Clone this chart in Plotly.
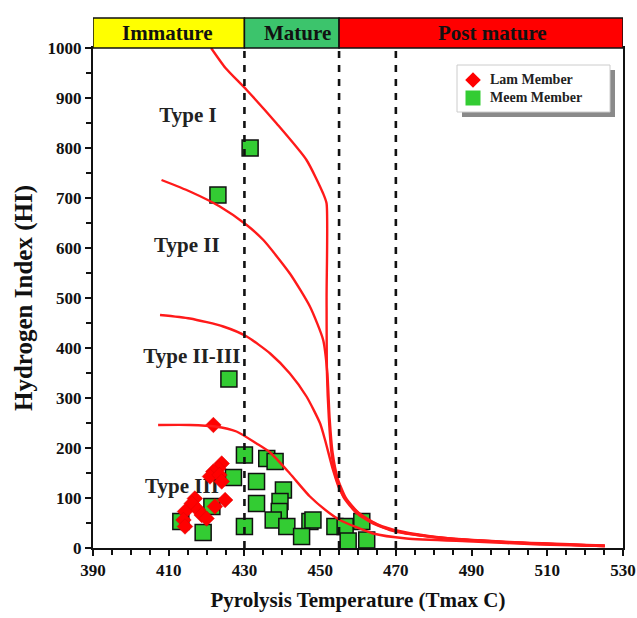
import plotly.graph_objects as go

# ---------------- data ----------------
lam_x = [421.8, 424.0, 423.1, 421.8, 420.9, 423.4, 424.0, 424.9, 416.9, 416.1,
         417.8, 418.7, 414.3, 413.9, 414.3, 420.0, 422.2]
lam_y = [246, 169, 159, 153, 143, 146, 133, 96, 99, 89,
         76, 66, 73, 56, 43, 59, 83]

meem_x = [431.5, 423.0, 425.9, 430.0, 435.9, 438.1, 427.1, 433.2, 440.3, 433.2,
          439.4, 439.2, 437.6, 441.2, 447.3, 448.1, 445.1, 430.0, 421.4, 413.2,
          419.1, 453.9, 456.6, 461.0, 457.4, 462.3]
meem_y = [800, 706, 338, 186, 179, 173, 141, 133, 116, 89,
          93, 73, 56, 43, 53, 56, 23, 43, 83, 53,
          31, 43, 43, 53, 14, 16]

type1_x = [421.2, 425.0, 430.6, 438.5, 446.4, 450.8, 451.7, 451.7, 451.8, 452.3,
           453.0, 454.2, 456.3, 459.6, 464.2, 470.5, 482.0, 500.0, 525.2]
type1_y = [1000, 960, 916, 849, 776, 709, 689, 500, 350, 260,
           190, 140, 100, 70, 48, 33, 20, 11, 4]

type2_x = [408.1, 415.6, 423.5, 430.6, 435.0, 442.0, 447.3, 450.8, 451.9, 452.5,
           453.3, 454.6, 456.8, 460.2, 465.0, 471.5, 483.0, 501.0, 525.2]
type2_y = [736, 713, 683, 646, 616, 549, 483, 416, 350, 260,
           190, 140, 100, 70, 48, 33, 20, 11, 4]

type23_x = [407.7, 415.6, 424.4, 430.6, 436.8, 442.0, 446.4, 450.0, 451.3, 453.4,
            455.2, 457.9, 461.8, 468.4, 480.0, 500.0, 525.2]
type23_y = [466, 459, 443, 423, 389, 349, 303, 249, 216, 156,
            116, 86, 60, 36, 22, 12, 5]

type3_x = [407.2, 415.6, 422.2, 427.9, 433.2, 436.8, 442.0, 447.3, 452.6, 455.2,
           464.0, 472.8, 490.4, 508.1, 525.2]
type3_y = [246, 246, 243, 233, 209, 191, 149, 103, 69, 56,
           29, 19, 13, 7, 4]

type_labels = ["Type I", "Type II", "Type II-III", "Type III"]
type_label_x = [415.1, 414.8, 416.1, 413.5]
type_label_y = [862, 602, 380, 120]

zones = ["Immature", "Mature", "Post mature"]
zone_bounds = [390, 430, 455, 530]
zone_colors = ["#ffff00", "#3cc46c", "#ff0000"]
zone_text_x = [409.8, 443.9, 495.4]

dashed_x = [430, 455, 470]

x_ticks = [390, 410, 430, 450, 470, 490, 510, 530]
y_ticks = [0, 100, 200, 300, 400, 500, 600, 700, 800, 900, 1000]

legend_names = ["Lam Member", "Meem Member"]

# ---------------- figure ----------------
FONT = "Liberation Serif"
INK = "#111111"
fig = go.Figure()

# type labels (under markers)
fig.add_trace(go.Scatter(
    x=type_label_x, y=type_label_y, mode="text", text=type_labels,
    textfont=dict(family=FONT, size=21, color="#222222", weight="bold"),
    showlegend=False, hoverinfo="skip"))

fig.add_trace(go.Scatter(
    x=meem_x, y=meem_y, mode="markers", name=legend_names[1],
    marker=dict(symbol="square", size=16, color="#33cc33",
                line=dict(color=INK, width=1.5)),
    showlegend=False))

fig.add_trace(go.Scatter(
    x=lam_x, y=lam_y, mode="markers", name=legend_names[0],
    marker=dict(symbol="diamond", size=12, color="#ff0000",
                line=dict(color="#dd0000", width=0.5)),
    showlegend=False))

for cx, cy in [(type1_x, type1_y), (type2_x, type2_y),
               (type23_x, type23_y), (type3_x, type3_y)]:
    fig.add_trace(go.Scatter(
        x=cx, y=cy, mode="lines",
        line=dict(color="#ff1a1a", width=2.4, shape="spline", smoothing=0.6),
        showlegend=False, hoverinfo="skip"))

W, H, L, T = 530.0, 500.0, 93.0, 48.0
def px(x): return (x - L) / W
def py(y): return (T + H - y) / H

shapes = []
# legend box with shadow (paper coords), drawn below traces
shapes.append(dict(type="rect", xref="paper", yref="paper",
                   x0=px(462), x1=px(615), y0=py(117), y1=py(70),
                   fillcolor="#8a8a8a", line=dict(width=0), layer="below"))
shapes.append(dict(type="rect", xref="paper", yref="paper",
                   x0=px(457), x1=px(610), y0=py(112), y1=py(65),
                   fillcolor="white", line=dict(color="#cccccc", width=1), layer="below"))
# dashed lines
for dx in dashed_x:
    shapes.append(dict(type="line", xref="x", yref="y", x0=dx, x1=dx, y0=0, y1=1000,
                       line=dict(color=INK, width=2.6, dash="7px,7px"), layer="above"))
# maturity band
band_top = 1 + 30 / 500
for i in range(3):
    shapes.append(dict(type="rect", xref="x", yref="paper",
                       x0=zone_bounds[i], x1=zone_bounds[i + 1], y0=1, y1=band_top,
                       fillcolor=zone_colors[i], line=dict(color=INK, width=1.5)))

annotations = []
for i in range(3):
    annotations.append(dict(x=zone_text_x[i], y=(1 + band_top) / 2, xref="x", yref="paper",
                            xanchor="center", yanchor="middle",
                            text=zones[i], showarrow=False,
                            font=dict(family=FONT, size=21, color=INK, weight="bold")))

fig.update_layout(shapes=shapes, annotations=annotations)

# custom legend entries inside the box
fig.add_trace(go.Scatter(
    x=[px(473)], y=[py(80)], xaxis="x2", yaxis="y2", mode="markers",
    marker=dict(symbol="diamond", size=12, color="#ff0000"),
    showlegend=False, hoverinfo="skip"))
fig.add_trace(go.Scatter(
    x=[px(473)], y=[py(98)], xaxis="x2", yaxis="y2", mode="markers",
    marker=dict(symbol="square", size=15, color="#33cc33"),
    showlegend=False, hoverinfo="skip"))
fig.add_trace(go.Scatter(
    x=[px(490), px(490)], y=[py(80), py(98)], xaxis="x2", yaxis="y2", mode="text",
    text=legend_names, textposition="middle right",
    textfont=dict(family=FONT, size=14, color="#222222", weight="bold"),
    showlegend=False, hoverinfo="skip"))

fig.update_layout(
    width=637, height=618,
    margin=dict(l=93, r=14, t=48, b=70, autoexpand=False),
    paper_bgcolor="white", plot_bgcolor="white",
    font=dict(family=FONT, color=INK),
    xaxis=dict(range=[390, 530], tickvals=x_ticks, showgrid=False, zeroline=False,
               automargin=False,
               showline=True, linecolor=INK, linewidth=2, mirror=True,
               ticks="outside", ticklen=6, tickwidth=1.5, tickcolor=INK,
               minor=dict(dtick=5, ticks="outside", ticklen=5, tickcolor=INK, tickwidth=1.5),
               tickfont=dict(family=FONT, size=17, color=INK, weight="bold"),
               title=dict(text="Pyrolysis Temperature (Tmax C)",
                          font=dict(family=FONT, size=21, color=INK, weight="bold"), standoff=13)),
    yaxis=dict(range=[0, 1000], tickvals=y_ticks, showgrid=False, zeroline=False,
               automargin=False,
               showline=True, linecolor=INK, linewidth=2, mirror=True,
               ticks="outside", ticklen=6, tickwidth=1.5, tickcolor=INK,
               minor=dict(dtick=50, ticks="outside", ticklen=5, tickcolor=INK, tickwidth=1.5),
               tickfont=dict(family=FONT, size=17, color=INK, weight="bold"),
               title=dict(text="Hydrogen Index (HI)",
                          font=dict(family=FONT, size=25, color=INK, weight="bold"), standoff=8)),
    xaxis2=dict(range=[0, 1], domain=[0, 1], overlaying="x", visible=False,
                fixedrange=True, automargin=False),
    yaxis2=dict(range=[0, 1], domain=[0, 1], overlaying="y", visible=False,
                fixedrange=True, automargin=False),
    showlegend=False,
)

fig.write_html("out.html")
